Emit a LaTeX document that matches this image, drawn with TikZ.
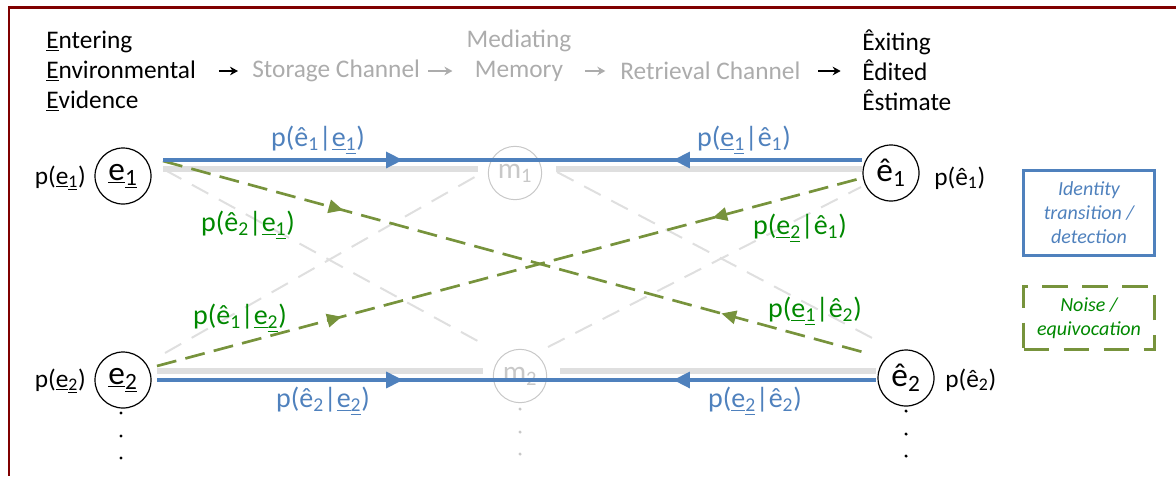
\documentclass[tikz,border=0pt]{standalone}
\usepackage{fontspec}
\setmainfont{Carlito}
\usetikzlibrary{arrows.meta,decorations.markings,calc}
\definecolor{framered}{RGB}{128,0,0}
\definecolor{oblue}{RGB}{79,129,189}
\definecolor{lblue}{RGB}{79,129,189}
\definecolor{ogreen}{RGB}{119,147,60}
\definecolor{tgreen}{RGB}{0,136,0}
\definecolor{lgray}{RGB}{223,223,223}
\definecolor{hgray}{RGB}{172,172,172}
\definecolor{mgray}{RGB}{200,200,200}
\newcommand\ueb[1]{\underline{e}\textsubscript{\underline{#1}}}
\newcommand\heb[1]{ê\textsubscript{#1}}
\tikzset{
  hdr/.style={font=\fontsize{19}{22.5}\selectfont, inner sep=0, align=left},
  state/.style={circle, draw=black, line width=0.9pt, fill=white, minimum size=42pt, inner sep=0, font=\fontsize{25}{25}\selectfont},
  memnode/.style={circle, draw=mgray, line width=0.75pt, minimum size=40pt, inner sep=0, text=mgray, font=\fontsize{22}{22}\selectfont},
  plab/.style={font=\fontsize{19}{19}\selectfont, inner sep=0},
  blab/.style={font=\fontsize{21}{21}\selectfont, text=lblue, inner sep=0},
  glab/.style={font=\fontsize{21}{21}\selectfont, text=tgreen, inner sep=0},
  bline/.style={draw=oblue, line width=2.4pt},
  gline/.style={draw=ogreen, line width=2pt, dash pattern=on 15pt off 7pt},
  grayline/.style={draw=lgray, line width=3.8pt},
  graydash/.style={draw=lgray, line width=1.5pt, dash pattern=on 14pt off 9pt},
  hdrarrow/.style={-{Stealth[length=6pt,width=6.5pt]}, line width=1.4pt},
  bfwd/.style={postaction={decorate, decoration={markings, mark=at position #1 with {\arrow{Triangle[length=12.5pt,width=12pt]}}}}},
  bbwd/.style={postaction={decorate, decoration={markings, mark=at position #1 with {\arrowreversed{Triangle[length=12.5pt,width=12pt]}}}}},
  gfwd/.style={postaction={decorate, decoration={markings, mark=at position #1 with {\arrow{Triangle[length=11pt,width=10pt]}}}}},
  gbwd/.style={postaction={decorate, decoration={markings, mark=at position #1 with {\arrowreversed{Triangle[length=11pt,width=10pt]}}}}},
  legbox/.style={minimum width=98pt, inner sep=0, align=center, font=\fontsize{15}{18}\selectfont\itshape},
  dotb/.style={circle, fill=black, inner sep=0, minimum size=2.6pt},
  dotg/.style={circle, fill=mgray, inner sep=0, minimum size=2.6pt}
}
\begin{document}
\begin{tikzpicture}[x=0.75pt,y=-0.75pt]
\useasboundingbox (0,0) rectangle (1176,476);
\draw[framered, line width=2.2pt] (1176,7.5) -- (9,7.5) -- (9,476);

% header
\node[hdr, anchor=west] (ent) at (46,71) {\underline{E}ntering\\\underline{E}nvironmental\\\underline{E}vidence};
\node[hdr, text=hgray, anchor=west] (sto) at (252,71) {Storage Channel};
\node[hdr, text=hgray, align=center] (mem) at (519,56) {Mediating\\Memory};
\node[hdr, text=hgray, anchor=west] (ret) at (620,71) {Retrieval Channel};
\node[hdr, anchor=west] (exi) at (862,70) {Êxiting\\Êdited\\Êstimate};
\draw[hdrarrow, shorten <=17pt, shorten >=10.5pt] (sto.west -| ent.east) -- (sto.west);
\draw[hdrarrow, hgray, shorten <=6pt, shorten >=10.5pt] (sto.east) -- (sto.east -| mem.west);
\draw[hdrarrow, hgray, shorten <=10pt, shorten >=11pt] (ret.west -| mem.east) -- (ret.west);
\draw[hdrarrow, shorten <=13pt, shorten >=16pt] (ret.east) -- (ret.east -| exi.west);

% states
\node[state] (e1) at (123,176) {\ueb{1}};
\node[state] (he1) at (891,173) {\heb{1}};
\node[state] (e2) at (123,380) {\ueb{2}};
\node[state] (he2) at (906,378) {\heb{2}};
\node[memnode] (m1) at (515,173) {m\textsubscript{1}};
\node[memnode] (m2) at (520,376) {m\textsubscript{2}};
\node[plab, anchor=east] (pe1) at (86,178) {p(\ueb{1})};
\node[plab, anchor=east] (pe2) at (86,381) {p(\ueb{2})};
\node[plab, anchor=west] (phe1) at (934,178) {p(\heb{1})};
\node[plab, anchor=west] (phe2) at (945,380) {p(\heb{2})};

% gray background channels
\draw[grayline] ($(e1)+(40,-7)$) -- ($(m1)+(-37,-4)$);
\draw[grayline] ($(m1)+(41,-4)$) -- ($(he1)+(-29,-4)$);
\draw[grayline] ($(e2)+(34,-9)$) -- ($(m2)+(-37,-5)$);
\draw[grayline] ($(m2)+(40,-5)$) -- ($(he2)+(-30,-7)$);
\draw[graydash] ($(e1)+(42,-6)$) -- ($(m2)+(-35,-31)$);
\draw[graydash] ($(e2)+(42,-27)$) -- ($(m1)+(-35,1)$);
\draw[graydash] ($(m1)+(42,-1)$) -- ($(he2)+(-30,-38)$);
\draw[graydash] ($(m2)+(28,-29)$) -- ($(he1)+(-30,14)$);

% noise
\draw[gline, gfwd=0.255, gbwd=0.79] ($(e1)+(40,-15)$) -- ($(he2)+(-36,-24)$);
\draw[gline, gfwd=0.262, gbwd=0.788] ($(e2)+(34,-14)$) -- ($(he1)+(-29,5)$);

% identity
\draw[bline, bfwd=0.343, bbwd=0.73] ($(e1)+(40,-16)$) -- ($(he1)+(-29,-13)$);
\draw[bline, bfwd=0.342, bbwd=0.718] ($(e2)+(34,0)$) -- ($(he2)+(-30,2)$);

% labels
\node[blab] (l11) at (318,140) {p(\heb{1}|\ueb{1})};
\node[blab] (l11b) at (744,140) {p(\ueb{1}|\heb{1})};
\node[blab] (l22) at (323,401) {p(\heb{2}|\ueb{2})};
\node[blab] (l22b) at (755,401) {p(\ueb{2}|\heb{2})};
\node[glab] (l21) at (248,225) {p(\heb{2}|\ueb{1})};
\node[glab] (l21b) at (800,228) {p(\ueb{2}|\heb{1})};
\node[glab] (l12) at (240,318) {p(\heb{1}|\ueb{2})};
\node[glab] (l12b) at (815,311) {p(\ueb{1}|\heb{2})};

% dots
\foreach \k/\d in {1/33,2/56,3/78} {
  \node[dotb] (de\k) at ($(e2)+(-2,\d)$) {};
  \node[dotb] (dh\k) at ($(he2)+(0,\d)$) {};
  \node[dotg] (dm\k) at ($(m2)+(0,\d)$) {};
}

% legend
\node[legbox, draw=oblue, line width=2.4pt, minimum height=64pt, text=lblue] (leg1) at (1089,213) {Identity\\transition /\\detection};
\node[legbox, draw=ogreen, line width=2.4pt, dash pattern=on 19pt off 11pt, minimum height=47pt, text=tgreen] (leg2) at (1089,318) {Noise /\\equivocation};
\end{tikzpicture}
\end{document}
